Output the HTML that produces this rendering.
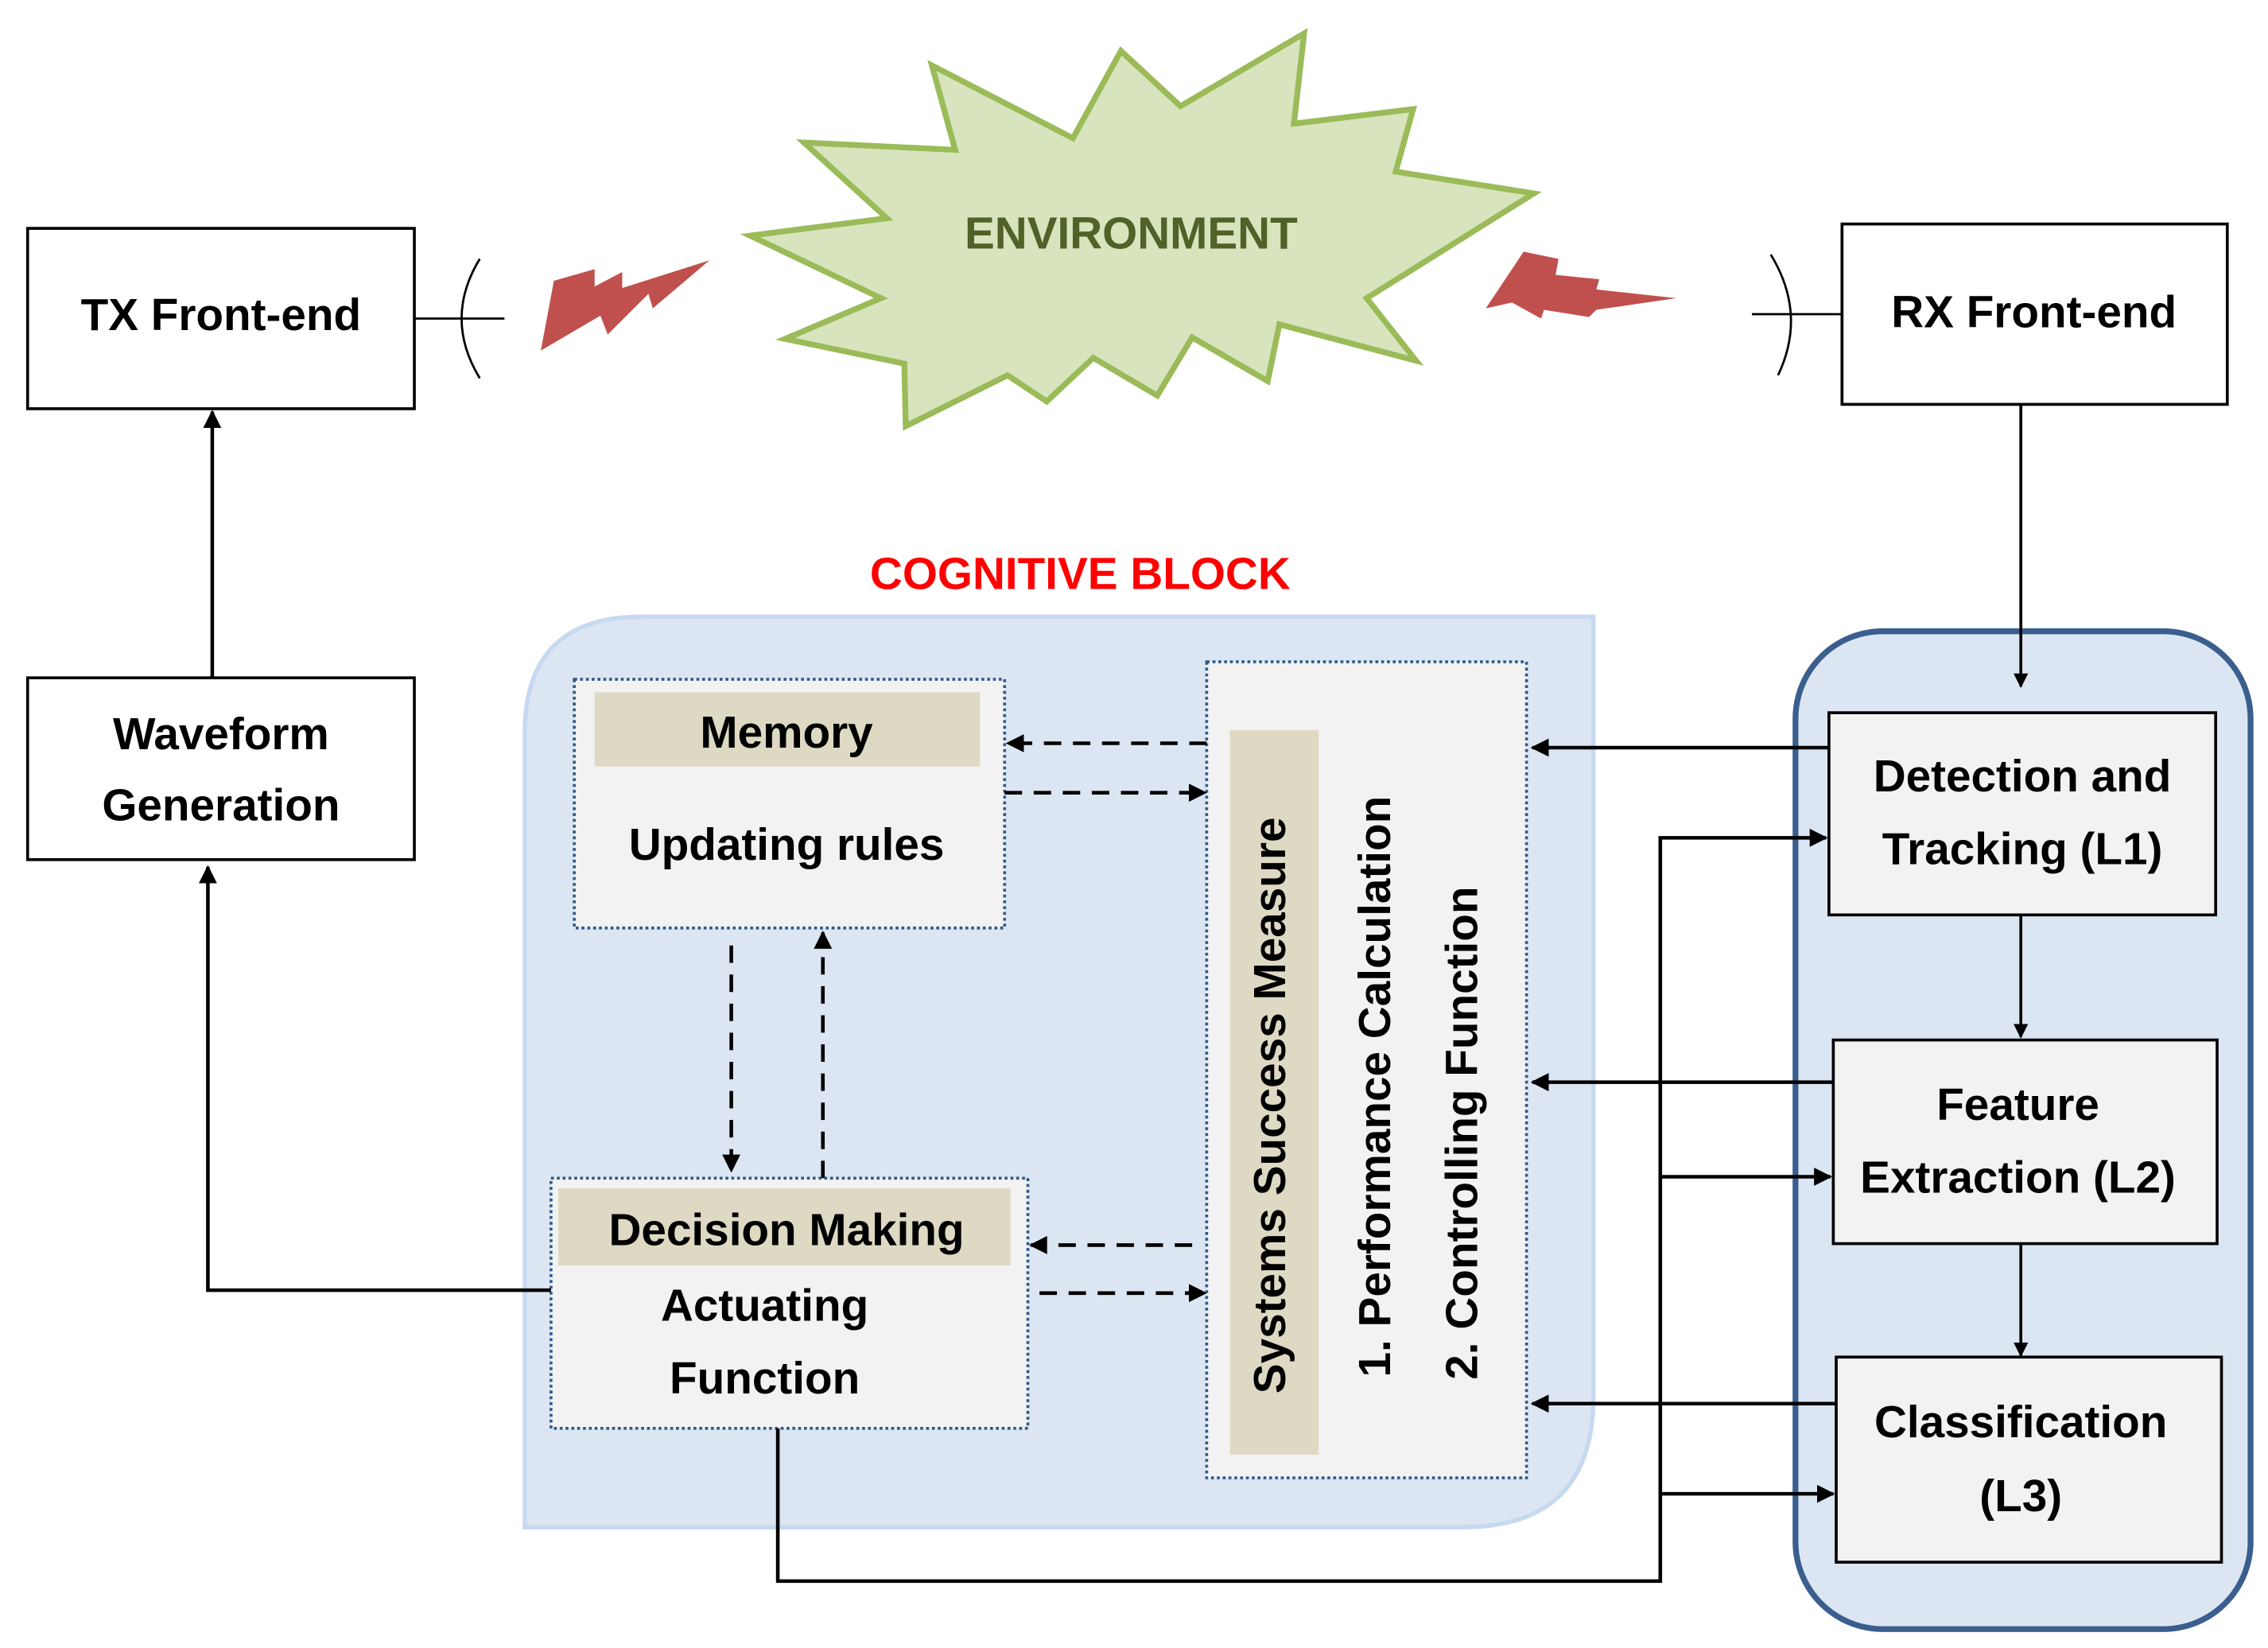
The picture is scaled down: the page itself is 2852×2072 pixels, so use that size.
<!DOCTYPE html>
<html><head><meta charset="utf-8"><style>html,body{margin:0;padding:0;background:#fff}svg{display:block}</style></head>
<body>
<svg width="2852" height="2072" viewBox="0 0 1560 1133" preserveAspectRatio="none" xmlns="http://www.w3.org/2000/svg" font-family="Liberation Sans, sans-serif" font-weight="bold">
<defs>
<marker id="a" viewBox="0 0 10 10" refX="9" refY="5" markerWidth="5" markerHeight="5" orient="auto"><path d="M0,0 L10,5 L0,10 z" fill="#000"/></marker>
</defs>
<!-- TX -->
<rect x="19" y="157" width="266" height="124" fill="#fff" stroke="#000" stroke-width="2"/>
<text x="152" y="227" font-size="31" text-anchor="middle">TX Front-end</text>
<line x1="285" y1="219" x2="347" y2="219" stroke="#000" stroke-width="1.5"/>
<path d="M330,178 Q305,219 330,260" fill="none" stroke="#000" stroke-width="1.5"/>
<polygon points="372,241 381,193 409,185 409,197 428,187 428,198 488,179 449,212 446,202 418,230 413,217" fill="#c0504d"/>
<!-- Star -->
<polygon points="897,23 812,73 771,35 738,95 641,45 657,103 553,98 610,150 516,162 606,205 540,233 622,250 623,293 693,258 720,276 752,246 796,272 820,232 872,262 880,223 974,248 940,205 1055,133 960,118 972,75 890,85" fill="#d7e4bd" stroke="#9bbb59" stroke-width="4" stroke-linejoin="miter"/>
<text x="778" y="171" font-size="31" fill="#4f6228" text-anchor="middle">ENVIRONMENT</text>
<!-- RX -->
<polygon points="1022,212 1048,173 1072,178 1070,189 1100,192 1098,199 1153,205 1098,213 1093,218 1062,213 1060,219 1040,208" fill="#c0504d"/>
<path d="M1218,175 Q1243,216 1223,258" fill="none" stroke="#000" stroke-width="1.5"/>
<line x1="1205" y1="216" x2="1267" y2="216" stroke="#000" stroke-width="1.5"/>
<rect x="1267" y="154" width="265" height="124" fill="#fff" stroke="#000" stroke-width="2"/>
<text x="1399" y="225" font-size="31" text-anchor="middle">RX Front-end</text>
<!-- right panel -->
<rect x="1235" y="434" width="313" height="686" rx="60" fill="#dce6f2" stroke="#3a5f8f" stroke-width="4"/>
<line x1="1390" y1="278" x2="1390" y2="472" stroke="#000" stroke-width="2" marker-end="url(#a)"/>
<rect x="1258" y="490" width="266" height="139" fill="#f2f2f2" stroke="#000" stroke-width="2"/>
<text x="1391" y="544" font-size="31" text-anchor="middle">Detection and</text>
<text x="1391" y="594" font-size="31" text-anchor="middle">Tracking (L1)</text>
<line x1="1390" y1="629" x2="1390" y2="713" stroke="#000" stroke-width="2" marker-end="url(#a)"/>
<rect x="1261" y="715" width="264" height="140" fill="#f2f2f2" stroke="#000" stroke-width="2"/>
<text x="1388" y="770" font-size="31" text-anchor="middle">Feature</text>
<text x="1388" y="820" font-size="31" text-anchor="middle">Extraction (L2)</text>
<line x1="1390" y1="855" x2="1390" y2="932" stroke="#000" stroke-width="2" marker-end="url(#a)"/>
<rect x="1263" y="933" width="265" height="141" fill="#f2f2f2" stroke="#000" stroke-width="2"/>
<text x="1390" y="988" font-size="31" text-anchor="middle">Classification</text>
<text x="1390" y="1039" font-size="31" text-anchor="middle">(L3)</text>
<!-- cognitive block -->
<path d="M441,424 L1096,424 L1096,960 Q1096,1050 1006,1050 L361,1050 L361,504 Q361,424 441,424 Z" fill="#dce6f2" stroke="#c6d9f1" stroke-width="3"/>
<text x="743" y="405" font-size="31" fill="#ff0000" text-anchor="middle">COGNITIVE BLOCK</text>
<!-- memory -->
<rect x="395" y="467" width="296" height="171" fill="#f2f2f2" stroke="#2e5a8a" stroke-width="2" stroke-dasharray="2,2"/>
<rect x="409" y="476" width="265" height="51" fill="#ddd9c3"/>
<text x="541" y="514" font-size="31" text-anchor="middle">Memory</text>
<text x="541" y="591" font-size="31" text-anchor="middle">Updating rules</text>
<!-- decision -->
<rect x="379" y="810" width="328" height="172" fill="#f2f2f2" stroke="#2e5a8a" stroke-width="2" stroke-dasharray="2,2"/>
<rect x="384" y="817" width="311" height="53" fill="#ddd9c3"/>
<text x="541" y="856" font-size="31" text-anchor="middle">Decision Making</text>
<text x="526" y="908" font-size="31" text-anchor="middle">Actuating</text>
<text x="526" y="958" font-size="31" text-anchor="middle">Function</text>
<!-- systems -->
<rect x="830" y="455" width="220" height="561" fill="#f2f2f2" stroke="#2e5a8a" stroke-width="2" stroke-dasharray="2,2"/>
<rect x="846" y="502" width="61" height="498" fill="#ddd9c3"/>
<text transform="translate(884,760) rotate(-90)" font-size="31" text-anchor="middle">Systems Success Measure</text>
<text transform="translate(956,747) rotate(-90)" font-size="31" text-anchor="middle">1. Performance Calculation</text>
<text transform="translate(1016,779) rotate(-90)" font-size="31" text-anchor="middle">2.  Controlling Function</text>
<!-- dashed arrows -->
<g stroke="#000" stroke-width="2.5" stroke-dasharray="12,8" fill="none">
<line x1="830" y1="511" x2="693" y2="511" marker-end="url(#a)"/>
<line x1="691" y1="545" x2="829" y2="545" marker-end="url(#a)"/>
<line x1="503" y1="650" x2="503" y2="805" marker-end="url(#a)"/>
<line x1="566" y1="810" x2="566" y2="641" marker-end="url(#a)"/>
<line x1="820" y1="856" x2="709" y2="856" marker-end="url(#a)"/>
<line x1="715" y1="889" x2="829" y2="889" marker-end="url(#a)"/>
</g>
<!-- solid connectors -->
<g stroke="#000" stroke-width="2.5" fill="none">
<line x1="1258" y1="514" x2="1054" y2="514" marker-end="url(#a)"/>
<line x1="1261" y1="744" x2="1054" y2="744" marker-end="url(#a)"/>
<line x1="1263" y1="965" x2="1054" y2="965" marker-end="url(#a)"/>
<polyline points="535,982 535,1087 1142,1087 1142,576 1256,576" marker-end="url(#a)"/>
<line x1="1142" y1="809" x2="1259" y2="809" marker-end="url(#a)"/>
<line x1="1142" y1="1027" x2="1261" y2="1027" marker-end="url(#a)"/>
<polyline points="379,887 143,887 143,596" marker-end="url(#a)"/>
<line x1="146" y1="466" x2="146" y2="283" marker-end="url(#a)"/>
</g>
<!-- waveform -->
<rect x="19" y="466" width="266" height="125" fill="#fff" stroke="#000" stroke-width="2"/>
<text x="152" y="515" font-size="31" text-anchor="middle">Waveform</text>
<text x="152" y="564" font-size="31" text-anchor="middle">Generation</text>
</svg>
</body></html>
